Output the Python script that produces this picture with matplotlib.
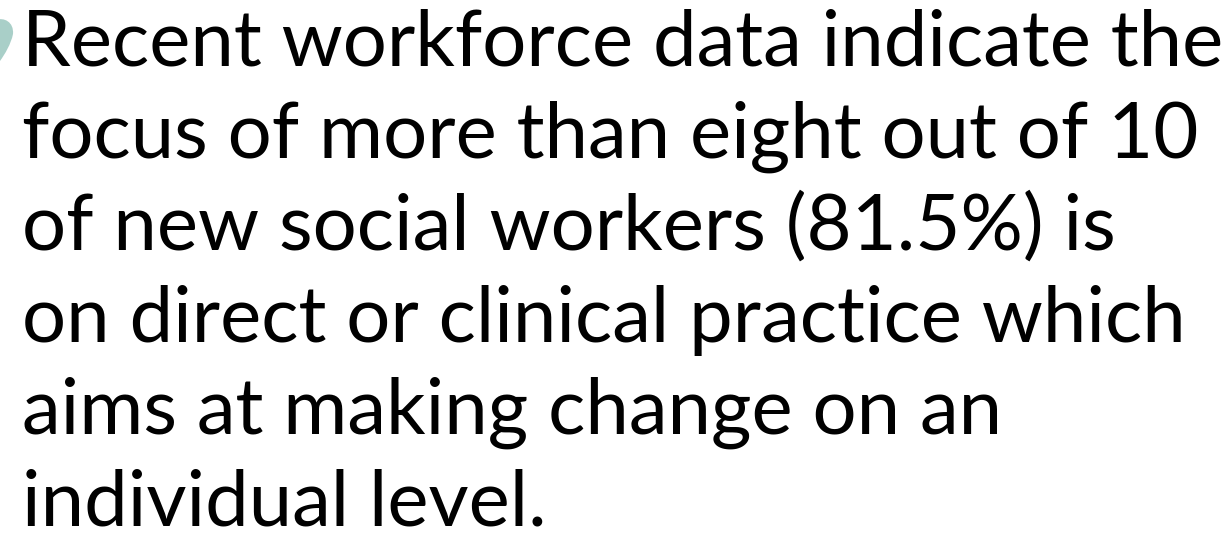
import matplotlib
matplotlib.use("Agg")
import matplotlib.pyplot as plt
from matplotlib.path import Path
from matplotlib.patches import PathPatch

lines = [
    "Recent workforce data indicate the",
    "focus of more than eight out of 10",
    "of new social workers (81.5%) is",
    "on direct or clinical practice which",
    "aims at making change on an",
    "individual level.",
]

W, H = 1232, 533
fig = plt.figure(figsize=(W / 100, H / 100), dpi=100)
fig.patch.set_facecolor("white")

family = "Lato"
target_width = 1200.0  # px for first line
left_px = 22
first_baseline = 66
spacing = 92

# measure to fit width
probe = fig.text(0, 0, lines[0], fontsize=50, family=family)
fig.canvas.draw()
w = probe.get_window_extent().width
probe.remove()
fs = 50 * target_width / w

for i, s in enumerate(lines):
    y = first_baseline + spacing * i
    fig.text(left_px / W, 1 - y / H, s, fontsize=fs, family=family,
             color="black", va="baseline", ha="left")

# bullet (teal teardrop, partially cut by the left edge)
def P(x, y):
    return (x / W, 1 - y / H)

verts = [P(-4, 20), P(4, 17), P(14, 22), P(13, 34),
         P(11, 44), P(5, 54), P(0, 61),
         P(-4, 61), P(-4, 20)]
codes = [Path.MOVETO, Path.CURVE4, Path.CURVE4, Path.CURVE4,
         Path.CURVE4, Path.CURVE4, Path.CURVE4,
         Path.LINETO, Path.CLOSEPOLY]
patch = PathPatch(Path(verts, codes), facecolor="#a9cfc8", edgecolor="none",
                  transform=fig.transFigure)
fig.patches.append(patch)

fig.savefig("out.png", dpi=100)
